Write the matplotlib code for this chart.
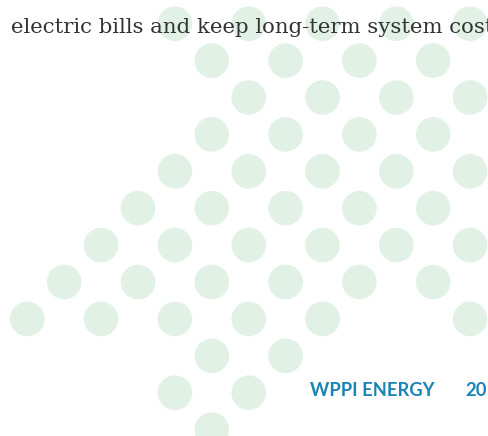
import matplotlib.pyplot as plt
from matplotlib.patches import Circle

# dot pattern: for each row, which grid columns carry a dot
dot_rows = [
    [4, 6, 8, 10, 12],
    [5, 7, 9, 11],
    [6, 8, 10, 12],
    [5, 7, 9, 11],
    [4, 6, 8, 10, 12],
    [3, 5, 7, 9, 11],
    [2, 4, 6, 8, 10, 12],
    [1, 3, 5, 7, 9, 11],
    [0, 2, 4, 6, 8, 12],
    [5, 7],
    [4, 6],
    [5],
]

headline = "electric bills and keep long-term system costs"
footer_name = "WPPI ENERGY"
footer_year = "2017"

step = 36.9
x0, y0 = 27.3, 23.7
radius = 17.3

fig = plt.figure(figsize=(4.89, 4.36), dpi=100)
ax = fig.add_axes([0, 0, 1, 1])
ax.set_xlim(0, 489)
ax.set_ylim(436, 0)
ax.axis('off')

for j, cols in enumerate(dot_rows):
    for i in cols:
        ax.add_patch(Circle((x0 + i * step, y0 + j * step), radius,
                            facecolor='#e1f1e6', edgecolor='none', zorder=1))

ax.text(11, 33, headline, fontsize=15.3, family='DejaVu Serif',
        color='#333333', va='baseline', ha='left', zorder=3)

ax.text(310, 395.5, footer_name, fontsize=13.2, family='Lato', weight='bold',
        color='#1a84b4', va='baseline', ha='left', zorder=3)
ax.text(465, 395.5, footer_year, fontsize=13.2, family='Lato', weight='bold',
        color='#1a84b4', va='baseline', ha='left', zorder=3)

fig.savefig('out.png', dpi=100)
